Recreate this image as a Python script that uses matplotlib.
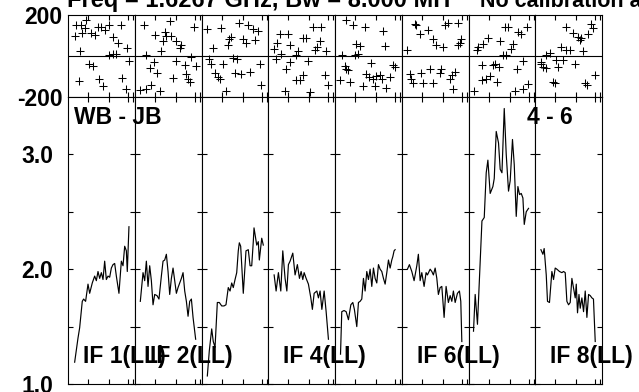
import matplotlib
matplotlib.use('Agg')
import matplotlib.pyplot as plt

plt.rcParams['font.family'] = ['Liberation Sans', 'DejaVu Sans']
plt.rcParams['font.weight'] = 'bold'

# amplitude spectra per IF (channel, amplitude)
if1_amp_ch = [6.1, 9.3, 10.9, 13.4, 14.7, 16.6, 18.9, 20.5, 23.0, 25.3, 26.9, 28.5, 30.1, 31.7, 33.3,
              34.9, 36.5, 38.1, 39.7, 41.3, 42.9, 44.5, 46.1, 48.6, 50.9, 52.5, 54.1, 55.7, 56.6, 58.2]
if1_amp = [1.19, 1.40, 1.49, 1.72, 1.74, 1.72, 1.87, 1.79, 1.88, 1.94, 1.90, 1.98, 1.92, 1.97, 1.91,
           2.07, 1.91, 1.94, 1.93, 2.01, 2.04, 2.05, 1.94, 1.79, 2.07, 2.03, 2.20, 2.16, 1.98, 2.37]
if2_amp_ch = [5.1, 7.7, 9.3, 10.9, 12.5, 14.1, 15.7, 17.3, 18.9, 21.1, 23.0, 25.3, 26.9, 28.5, 30.1, 31.7,
              33.3, 34.9, 36.5, 38.1, 39.7, 41.3, 42.9, 44.5, 46.1, 47.7, 49.3, 50.9, 52.5, 54.1, 55.7, 58.2]
if2_amp = [1.72, 1.97, 1.90, 2.07, 1.85, 2.03, 1.90, 1.69, 1.78, 1.77, 1.74, 1.94, 2.07, 2.08, 2.13, 1.98,
           1.78, 1.92, 2.01, 1.90, 1.79, 1.84, 1.88, 1.92, 1.97, 1.81, 1.72, 1.59, 1.72, 1.74, 1.58, 1.39]
if3_amp_ch = [5.4, 7.3, 9.6, 11.1, 12.8, 15.0, 16.9, 19.2, 21.4, 23.3, 25.5, 27.2, 28.8, 30.3, 32.0, 33.6,
              35.1, 36.1, 37.4, 39.9, 42.5, 44.7, 46.4, 48.0, 49.5, 50.2, 52.8, 54.3, 55.3, 57.6, 59.1]
if3_amp = [1.07, 1.29, 1.48, 1.37, 1.32, 1.71, 1.71, 1.68, 1.68, 1.69, 1.84, 1.81, 1.88, 1.84, 1.91, 1.97,
           2.16, 2.23, 2.20, 1.79, 2.16, 2.17, 2.03, 2.03, 2.24, 2.36, 2.21, 2.24, 2.08, 2.27, 2.21]
if4_amp_ch = [5.5, 7.4, 9.6, 11.9, 13.8, 16.0, 17.7, 19.2, 20.8, 23.4, 25.6, 27.8, 29.8, 31.4,
              33.0, 34.3, 36.2, 38.4, 40.7, 42.2, 43.9, 46.5, 48.0, 49.6, 51.3, 53.5, 55.4, 57.6]
if4_amp = [1.95, 1.81, 1.97, 1.81, 2.16, 1.92, 1.81, 2.04, 2.07, 2.14, 1.95, 2.04, 1.92, 1.98,
           1.91, 1.97, 1.92, 1.87, 1.75, 1.65, 1.79, 1.81, 1.75, 1.81, 1.65, 1.81, 1.63, 1.39]
if5_amp_ch = [5.2, 6.4, 8.6, 10.6, 12.8, 15.1, 17.0, 18.5, 20.8, 22.4, 24.0, 25.6, 27.2, 28.8, 30.4, 32.0, 33.6,
              35.2, 36.8, 38.4, 40.0, 41.6, 43.2, 44.8, 46.4, 48.0, 49.6, 51.2, 52.8, 54.4, 55.4, 56.6, 57.6]
if5_amp = [1.26, 1.63, 1.64, 1.63, 1.56, 1.69, 1.71, 1.65, 1.50, 1.71, 1.72, 1.74, 1.92, 1.81, 1.98, 1.91, 2.00,
           1.85, 2.01, 1.92, 1.88, 2.04, 2.00, 1.98, 1.92, 1.87, 1.97, 2.08, 2.01, 2.08, 2.11, 2.16, 2.17]
if6_amp_ch = [5.4, 7.3, 9.6, 11.8, 14.4, 15.9, 17.6, 19.2, 21.4, 23.3, 24.6, 27.2, 28.8, 30.3, 32.0,
              33.6, 35.1, 36.8, 38.4, 40.6, 42.5, 44.7, 46.4, 48.0, 49.5, 51.2, 53.4, 55.3, 56.6, 57.6]
if6_amp = [2.00, 2.04, 1.98, 1.90, 2.03, 2.13, 1.90, 1.97, 1.85, 1.97, 1.95, 2.00, 1.98, 1.95, 2.01,
           1.92, 1.78, 1.84, 1.85, 1.58, 1.85, 1.71, 1.77, 1.72, 1.81, 1.71, 1.79, 1.81, 1.72, 1.37]
if7_amp_ch = [4.8, 6.4, 8.6, 12.9, 15.1, 17.0, 18.6, 20.8, 23.4, 24.7, 26.6, 28.8, 30.4, 32.1,
              34.3, 36.2, 38.4, 40.0, 42.2, 43.9, 45.8, 47.4, 49.0, 50.6, 52.2, 53.5, 55.4, 57.6]
if7_amp = [1.46, 1.78, 1.52, 2.42, 2.45, 2.84, 2.95, 2.66, 2.72, 2.79, 3.20, 3.10, 2.87, 2.84,
           3.40, 3.00, 2.68, 2.77, 3.13, 2.91, 2.46, 2.72, 2.65, 2.66, 2.62, 2.39, 2.50, 2.53]
if8_amp_ch = [5.5, 7.4, 8.6, 10.6, 11.8, 13.7, 16.0, 17.6, 19.2, 20.8, 23.3, 25.6, 27.2, 28.8, 30.4, 32.0, 33.6,
              35.2, 36.7, 38.4, 39.4, 40.6, 42.0, 43.2, 44.8, 46.4, 48.0, 49.6, 51.2, 52.8, 54.4, 55.9, 57.6]
if8_amp = [2.17, 2.13, 2.18, 1.95, 1.72, 1.71, 1.98, 1.91, 2.01, 2.00, 1.98, 1.97, 1.98, 1.97, 1.72, 1.69, 1.71,
           1.92, 1.84, 1.75, 1.87, 1.62, 1.78, 1.66, 1.75, 1.63, 1.81, 1.58, 1.78, 1.77, 1.75, 1.74, 1.37]

# phases per IF (channel, degrees)
if1_ph_ch = [7.7, 12.5, 17.3, 15.7, 6.1, 13.4, 22.1, 25.3, 28.5, 31.7, 34.9, 39.0, 50.9, 42.9,
             47.7, 56.3, 11.5, 39.0, 42.9, 46.0, 58.2, 19.8, 23.7, 10.2, 29.4, 33.3, 51.8, 55.0]
if1_ph = [153, 150, 174, 137, 98, 114, 114, 104, 141, 141, 125, 153, 153, 93,
          65, 39, 23, 7, 11, 11, -26, -37, -49, -123, -111, -146, -107, -163]
if2_ph_ch = [8.3, 33.3, 56.3, 18.9, 28.5, 30.1, 34.9, 26.9, 39.7, 44.5, 42.9, 25.3, 10.2, 54.1,
             17.9, 39.0, 47.7, 14.1, 58.9, 21.1, 48.6, 50.9, 36.5, 52.5, 5.1, 10.9, 15.7, 23.7]
if2_ph = [153, 169, 141, 104, 117, 98, 98, 72, 72, 55, 39, 23, 3, -5,
          -29, -26, -46, -59, -49, -81, -86, -111, -107, -127, -167, -163, -140, -171]
if3_ph_ch = [5.1, 18.9, 35.8, 44.5, 49.3, 54.1, 10.9, 26.2, 28.5, 25.3, 39.7, 42.2, 50.9, 7.0,
             9.3, 20.5, 30.1, 33.9, 55.7, 12.5, 15.7, 17.3, 31.7, 38.1, 46.1, 57.3, 23.0]
if3_ph = [130, 137, 159, 150, 130, 120, 39, 85, 93, 52, 85, 65, 76, -13,
          -37, -37, -10, -13, -37, -81, -102, -111, -81, -86, -78, -140, -172]
if4_ph_ch = [10.9, 18.9, 8.3, 5.1, 12.5, 21.1, 33.3, 36.5, 42.9, 50.9, 49.3, 46.7, 44.5, 55.7,
             28.5, 26.9, 7.0, 20.5, 16.6, 38.1, 33.3, 26.9, 30.1, 54.1, 57.3, 15.7, 39.7]
if4_ph = [109, 109, 65, 36, 11, 52, 88, 88, 142, 142, 72, 44, 28, 23,
          23, 3, -13, -29, -62, -26, -94, -119, -119, -94, -143, -172, -176]
if5_ph_ch = [10.9, 17.3, 28.5, 46.1, 20.5, 24.3, 47.7, 7.0, 18.9, 22.1, 9.3, 12.5, 34.9, 55.7,
             57.3, 4.5, 14.7, 30.1, 32.6, 36.5, 39.7, 42.9, 45.4, 53.1, 26.9, 38.1, 49.3, 10.9]
if5_ph = [174, 153, 141, 120, 60, 49, 49, 3, 7, 11, -49, -70, -33, -42,
          -54, -119, -127, -86, -102, -111, -98, -91, -111, -102, -146, -146, -156, -65]
if6_ph_ch = [12.2, 13.8, 17.0, 25.0, 41.0, 44.2, 53.8, 29.8, 33.0, 39.4, 55.4, 57.0, 53.8, 4.8,
             7.4, 9.0, 11.2, 18.6, 26.6, 20.2, 29.8, 36.2, 37.8, 45.8, 48.3, 51.5, 49.0]
if6_ph = [158, 150, 109, 125, 153, 163, 163, 81, 55, 44, 65, 85, 55, 28,
          -86, -111, -130, -81, -65, -130, -130, -81, -62, -111, -94, -78, -163]
if7_ph_ch = [34.9, 38.1, 47.7, 49.9, 56.3, 7.7, 9.3, 14.1, 18.9, 30.1, 42.9, 40.3, 33.3, 35.8,
             52.5, 12.5, 23.7, 25.3, 29.4, 46.1, 13.4, 16.6, 20.5, 26.9, 57.3, 5.1, 44.5, 52.5]
if7_ph = [141, 141, 117, 109, 141, 28, 44, 60, 88, 72, 60, 33, 3, 7,
          -26, -42, -42, -37, -54, -62, -119, -111, -98, -127, -135, -172, -172, -163]
if8_ph_ch = [29.8, 36.2, 41.0, 42.6, 44.2, 50.6, 53.8, 55.4, 25.0, 29.8, 33.0, 45.8, 10.6, 13.8,
             5.8, 7.4, 10.6, 20.2, 26.6, 21.8, 37.8, 57.0, 17.0, 18.6, 47.4, 49.6, 5.8]
if8_ph = [141, 114, 93, 76, 88, 109, 158, 137, 44, 28, 28, 23, 7, 16,
          -37, -54, -59, -21, -21, -54, -37, -91, -127, -130, -130, -140, -29]

amp_ch = [if1_amp_ch, if2_amp_ch, if3_amp_ch, if4_amp_ch, if5_amp_ch, if6_amp_ch, if7_amp_ch, if8_amp_ch]
amp = [if1_amp, if2_amp, if3_amp, if4_amp, if5_amp, if6_amp, if7_amp, if8_amp]
ph_ch = [if1_ph_ch, if2_ph_ch, if3_ph_ch, if4_ph_ch, if5_ph_ch, if6_ph_ch, if7_ph_ch, if8_ph_ch]
ph = [if1_ph, if2_ph, if3_ph, if4_ph, if5_ph, if6_ph, if7_ph, if8_ph]

if_labels = {1: 'IF 1(LL)', 2: 'IF 2(LL)', 4: 'IF 4(LL)', 6: 'IF 6(LL)', 8: 'IF 8(LL)'}
chan_ticks = [19.2, 39.4, 57.6, 62.4]
amp_ticks = [1.0, 1.5, 2.0, 2.5, 3.0]
amp_ticklabels = ['1.0', '', '2.0', '', '3.0']

W, H = 639, 392
fig = plt.figure(figsize=(W / 100, H / 100), dpi=100)


def px_box(x0, y0, x1, y1):
  """Axes rectangle from pixel corners (origin top-left)."""
  return [x0 / W, 1 - y1 / H, (x1 - x0) / W, (y1 - y0) / H]


def style(ax):
  for s in ax.spines.values():
    s.set_linewidth(0.8)
  ax.tick_params(direction='in', length=3.3, width=0.8, top=True, bottom=True,
                 left=True, right=True, labelbottom=False, labelsize=16.5, colors='black')


left0, panel_w = 68.3, 66.7
for k in range(8):
  x0 = left0 + k * panel_w

  axp = fig.add_axes(px_box(x0, 15, x0 + panel_w, 97))
  axp.plot(ph_ch[k], ph[k], '+', color='black', ms=6, mew=0.75)
  axp.axhline(0, color='black', lw=0.8)
  axp.set_xlim(0, 64)
  axp.set_ylim(-200, 200)
  axp.set_xticks(chan_ticks)
  style(axp)
  axp.set_yticks([-200, 200])
  axp.tick_params(axis='y', length=0, pad=4.3)
  if k == 0:
    axp.set_yticklabels(['-200', '200'], fontweight='bold')
  else:
    axp.set_yticklabels([])

  axa = fig.add_axes(px_box(x0, 97, x0 + panel_w, 384))
  axa.plot(amp_ch[k], amp[k], color='black', lw=0.85)
  axa.set_xlim(0, 64)
  axa.set_ylim(1.0, 3.5)
  axa.set_xticks(chan_ticks)
  axa.set_yticks(amp_ticks)
  style(axa)
  axa.tick_params(axis='y', pad=10.8)
  if k == 0:
    axa.set_yticklabels(amp_ticklabels, fontweight='bold')
  else:
    axa.set_yticklabels([])

  if k + 1 in if_labels:
    fig.text((x0 + 15) / W, 1 - 363 / H, if_labels[k + 1], fontsize=16.5,
             fontweight='bold', va='baseline')

fig.text(67 / W, 1 - 7 / H, 'Freq = 1.6267 GHz, Bw = 8.000 MH', fontsize=17,
         fontweight='bold', va='baseline')
fig.text(480 / W, 1 - 7 / H, 'No calibration applied', fontsize=15.5,
         fontweight='bold', va='baseline')
fig.text(74 / W, 1 - 124 / H, 'WB - JB', fontsize=16.5, fontweight='bold', va='baseline')
fig.text(527 / W, 1 - 124 / H, '4 - 6', fontsize=16.5, fontweight='bold', va='baseline')

fig.savefig('out.png', dpi=100)
